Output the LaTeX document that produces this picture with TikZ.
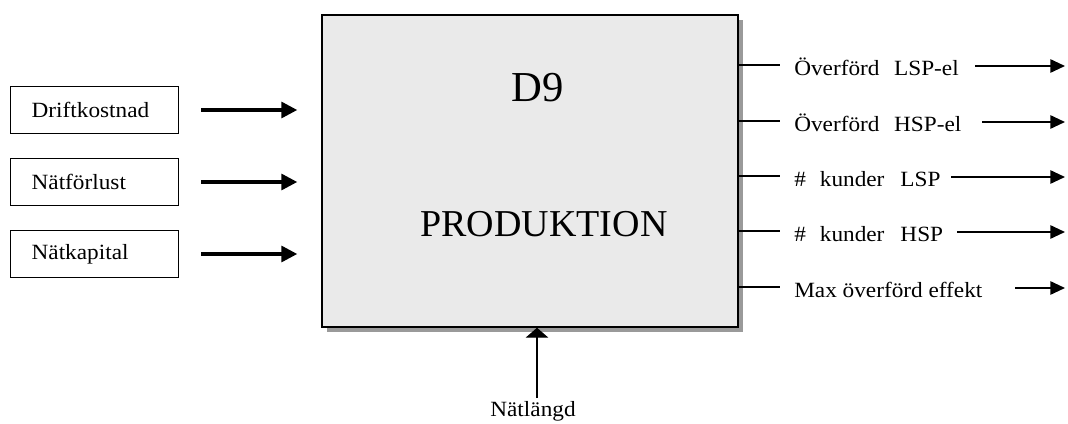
\documentclass[tikz,border=0pt]{standalone}
\usepackage{fontspec}
\setmainfont{Liberation Serif}
\newfontfamily\labelfont[FakeStretch=1.07]{Liberation Serif}
\usepackage{tikz}
\usetikzlibrary{positioning,arrows.meta,calc,shadows}
\definecolor{procfill}{HTML}{EAEAEA}
\definecolor{shade}{HTML}{9A9A9A}

\begin{document}
\begin{tikzpicture}[x=0.75pt,y=-0.75pt,
  inbox/.style={draw=black,line width=1pt,minimum height=35pt,inner xsep=15.75pt,text width=94.5pt,align=left,font=\labelfont\fontsize{16.3}{18}\selectfont},
  proc/.style={draw=black,line width=1.1pt,fill=procfill,minimum width=312pt,minimum height=234pt,inner sep=0pt,
    drop shadow={shadow xshift=3.75pt,shadow yshift=-3.75pt,fill=shade,opacity=1}},
  big/.style={anchor=base,inner sep=0pt},
  lbl/.style={anchor=base west,inner sep=0pt,font=\labelfont\fontsize{16.3}{18}\selectfont},
  stub/.style={line width=1.3pt},
  inarr/.style={-{Triangle[length=12pt,width=12pt]},line width=2.5pt},
  outarr/.style={-{Triangle[length=11pt,width=10pt]},line width=1.3pt},
  uparr/.style={-{Triangle[length=7.5pt,width=17pt]},line width=1.1pt}]
  \useasboundingbox (0,0) rectangle (1068,424);

  \node[proc] (main) at (530,171) {};
  \node[big,font=\fontsize{32}{36}\selectfont] (d9) at (538,102) {D9};
  \node[big,font=\fontsize{28.5}{32}\selectfont] (prod) at (544,237) {PRODUKTION};

  % inputs
  \foreach \y/\name/\txt in {110/drift/Driftkostnad,182/natf/Nätförlust,254/natk/Nätkapital}{
    \node[inbox,anchor=west] (\name) at (10,\y) {\txt};
    \draw[inarr] ($(\name.east)+(22,0)$) -- ($(main.west |- \name.east)+(-24,0)$);
  }

  % outputs
  \foreach \y/\sx/\txt [count=\i] in {65/975/{Överförd\hspace{11pt}LSP-el},
      121/982/{Överförd\hspace{11pt}HSP-el},
      176/951/{\#\hspace{10.5pt}kunder\hspace{12pt}LSP},
      231/957/{\#\hspace{10.5pt}kunder\hspace{12pt}HSP},
      287/1015/{Max överförd effekt}}{
    \node[lbl] (out\i) at (794,\y+10.5) {\txt};
    \coordinate (stub\i) at (780,\y);
    \coordinate (from\i) at (\sx,\y+1);
    \coordinate (tip\i) at (1065,\y+1);
    \draw[stub] (main.east |- stub\i) -- (stub\i);
    \draw[outarr] (from\i) -- (tip\i);
  }

  % bottom input
  \node[lbl,anchor=base] (len) at (533,416) {Nätlängd};
  \coordinate (lentop) at (537,398);
  \draw[uparr] (lentop) -- (main.south -| lentop);
\end{tikzpicture}
\end{document}
